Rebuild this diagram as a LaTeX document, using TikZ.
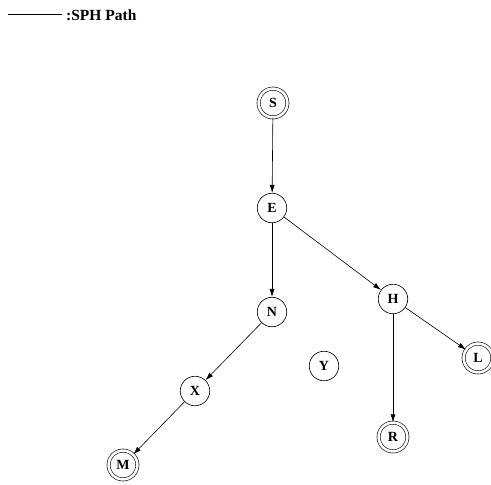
\documentclass[tikz,border=0pt]{standalone}
\usepackage{fontspec}
\setmainfont{Liberation Serif}
\usetikzlibrary{arrows.meta}
\begin{document}
\begin{tikzpicture}[x=1pt,y=-1pt,
  st/.style={circle,draw,line width=0.6pt,minimum size=29.5pt,inner sep=0pt,font=\fontsize{14}{14}\selectfont\bfseries},
  fin/.style={st,double,double distance=2.6pt,minimum size=28.8pt},
  edge/.style={draw,line width=0.6pt,-{Latex[length=8pt,width=5pt]}}]
\useasboundingbox (0,0) rectangle (491,485);
\node[fin] (S) at (273,103) {S};
\node[st] (E) at (272,208) {E};
\node[st] (N) at (272,312) {N};
\node[st] (H) at (393,299) {H};
\node[fin] (L) at (478,358) {L};
\node[st] (Y) at (324,366) {Y};
\node[st] (X) at (195,391) {X};
\node[fin] (R) at (393,437) {R};
\node[fin] (M) at (123,465) {M};
\draw[edge] (S) -- (E);
\draw[edge] (E) -- (N);
\draw[edge] (E) -- (H);
\draw[edge] (N) -- (X);
\draw[edge] (X) -- (M);
\draw[edge] (H) -- (L);
\draw[edge] (H) -- (R);
\coordinate (la) at (8,14);
\coordinate (lb) at (62,14);
\draw[line width=0.6pt] (la) -- (lb);
\node[anchor=west,inner sep=0pt,font=\fontsize{15.5}{15.5}\selectfont\bfseries] (leg) at (66,15) {:SPH Path};
\end{tikzpicture}
\end{document}
